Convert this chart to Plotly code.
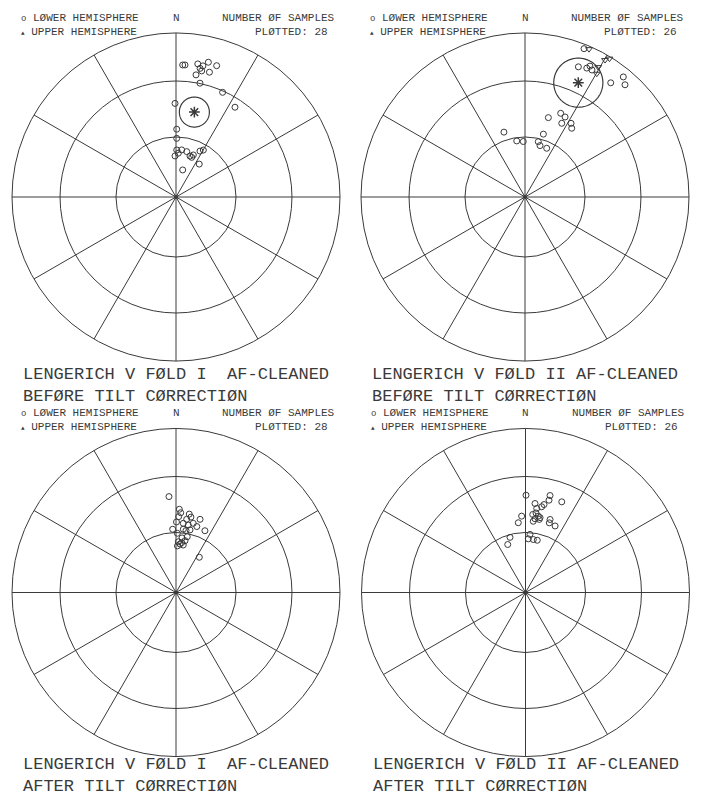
import numpy as np
import plotly.graph_objects as go

# Site directions: declination / inclination in degrees.
# Negative inclination = upper hemisphere.

# Fold I, before tilt correction
dec_f1_before = [2.9, 3.9, 9.3, 10.6, 11.5, 13.5, 15.0, 17.2, 9.3, 11.9, 24.0, 33.3, 359.4, 0.6,
                 0.7, 358.6, 0.9, 3.0, 6.9, 13.3, 18.9, 21.6, 22.4, 27.6, 30.2, 35.2, 13.9, 11.6]
inc_f1_before = [20.5, 20.4, 18.9, 21.3, 22.6, 16.6, 22.3, 17.3, 25.5, 29.8, 30.8, 34.8, 42.4, 56.0,
                 60.7, 69.6, 66.6, 68.2, 66.4, 66.8, 68.5, 68.8, 67.4, 64.2, 62.9, 70.0, 76.2, 19.5]

# Fold II, before tilt correction
dec_f2_before = [21.7, 22.3, 25.6, 26.4, 36.9, 39.3, 41.7, 342.0, 351.6, 358.2, 16.4, 23.1, 26.5,
                 32.0, 34.2, 16.3, 13.5, 16.3, 24.0, 27.8, 26.6,
                 23.4, 30.3, 31.4, 29.4, 30.2]
inc_f2_before = [3.0, 15.3, 13.9, 11.9, 14.0, 6.0, 9.2, 55.8, 61.7, 62.3, 48.2, 43.8, 48.4,
                 46.0, 48.0, 57.2, 61.6, 63.3, 63.4, 13.5, 44.6,
                 -2.0, -3.7, -1.3, -10.0, -14.1]

# Fold I, after tilt correction
dec_f1_after = [355.8, 2.3, 3.4, 9.6, 18.2, 2.0, 8.3, 6.0, 10.3, 14.0, 17.5, 25.1, 357.0, 6.6,
                9.2, 12.6, 1.3, 2.6, 6.5, 9.9, 4.7, 8.7, 11.4, 33.5, 0.4, 6.3, 11.2, 1.8]
inc_f1_after = [41.0, 47.9, 49.7, 49.9, 51.2, 51.8, 52.8, 55.1, 55.6, 54.2, 55.3, 55.8, 58.3, 58.1,
                58.6, 57.9, 60.4, 64.7, 65.0, 63.8, 65.8, 66.1, 61.6, 69.0, 54.6, 62.6, 51.3, 66.8]

# Fold II, after tilt correction
dec_f2_after = [0.3, 14.2, 21.8, 14.3, 11.9, 10.7, 6.1, 7.6, 357.1, 5.3, 7.5, 9.5, 7.3, 10.7,
                6.2, 11.0, 18.6, 18.9, 24.0, 354.1, 4.4, 3.0, 8.4, 12.7, 344.3, 339.7]
inc_f2_after = [40.4, 38.9, 40.2, 41.5, 44.4, 45.8, 44.6, 47.1, 51.5, 50.5, 49.5, 51.0, 52.6, 52.6,
                54.0, 51.6, 51.2, 53.0, 53.4, 54.8, 60.9, 63.2, 63.3, 63.3, 61.4, 64.5]

# Mean direction and alpha-95 (dec, inc, a95)
mean_f1_before = (12.2, 46.0, 8.0)
mean_f2_before = (25.0, 24.1, 14.5)

# Grid circles at inclinations 60 and 30 degrees
ring_inclinations = [60, 30]

title_line1 = ["LENGERICH V FØLD I  AF-CLEANED", "LENGERICH V FØLD II AF-CLEANED",
               "LENGERICH V FØLD I  AF-CLEANED", "LENGERICH V FØLD II AF-CLEANED"]
title_line2 = ["BEFØRE TILT CØRRECTIØN", "BEFØRE TILT CØRRECTIØN",
               "AFTER TILT CØRRECTIØN", "AFTER TILT CØRRECTIØN"]
sample_counts = [28, 26, 28, 26]

W, H = 701, 796
INK = "#3a3a3a"
FONT = "Liberation Mono"


def equal_area(inc):
    """Schmidt (equal-area) radius for an inclination, 0 at centre, 1 at rim."""
    inc = np.abs(np.asarray(inc, dtype=float))
    return np.sqrt(2.0) * np.sin(np.radians(90.0 - inc) / 2.0)


def confidence_circle(dec, inc, a95, n=181):
    """Circle around the mean in the projection plane, sized by the radial a95 extent."""
    r0 = float(equal_area(inc))
    rho = (float(equal_area(max(inc - a95, 0.0))) - float(equal_area(inc + a95))) / 2.0
    x0, y0 = r0 * np.sin(np.radians(dec)), r0 * np.cos(np.radians(dec))
    t = np.linspace(0, 2 * np.pi, n)
    x, y = x0 + rho * np.cos(t), y0 + rho * np.sin(t)
    return np.hypot(x, y), np.degrees(np.arctan2(x, y)) % 360


panels = [
    (dec_f1_before, inc_f1_before, mean_f1_before),
    (dec_f2_before, inc_f2_before, mean_f2_before),
    (dec_f1_after, inc_f1_after, None),
    (dec_f2_after, inc_f2_after, None),
]

# net centres and radius in pixels
centres = [(176, 197), (525, 197), (176, 592.5), (525.5, 592.5)]
RADIUS = 164

fig = go.Figure()

for k, (decs, incs, mean) in enumerate(panels):
    pid = "polar" if k == 0 else f"polar{k + 1}"
    decs = np.asarray(decs, dtype=float)
    incs = np.asarray(incs, dtype=float)
    lower = incs >= 0
    upper = ~lower
    fig.add_trace(go.Scatterpolar(
        r=equal_area(incs[lower]), theta=decs[lower], mode="markers", subplot=pid,
        marker=dict(symbol="circle-open", size=6, color=INK, line=dict(width=1)),
        showlegend=False, hoverinfo="skip"))
    if upper.any():
        fig.add_trace(go.Scatterpolar(
            r=equal_area(incs[upper]), theta=decs[upper], mode="markers", subplot=pid,
            marker=dict(symbol="triangle-down-open", size=6, color=INK, line=dict(width=1)),
            showlegend=False, hoverinfo="skip"))
    if mean is not None:
        cr, ct = confidence_circle(*mean)
        fig.add_trace(go.Scatterpolar(
            r=cr, theta=ct, mode="lines", subplot=pid,
            line=dict(color=INK, width=1.2), showlegend=False, hoverinfo="skip"))
        fig.add_trace(go.Scatterpolar(
            r=equal_area([mean[1]]), theta=[mean[0]], mode="markers", subplot=pid,
            marker=dict(symbol="asterisk-open", size=9, color=INK, line=dict(width=1.5)),
            showlegend=False, hoverinfo="skip"))
    # centre point of the net
    fig.add_trace(go.Scatterpolar(
        r=[0], theta=[0], mode="markers", subplot=pid,
        marker=dict(symbol="circle", size=4, color=INK),
        showlegend=False, hoverinfo="skip"))

    cx, cy = centres[k]
    fig.layout[pid] = dict(
        domain=dict(x=[(cx - RADIUS) / W, (cx + RADIUS) / W],
                    y=[1 - (cy + RADIUS) / H, 1 - (cy - RADIUS) / H]),
        bgcolor="white",
        angularaxis=dict(rotation=90, direction="clockwise", dtick=30,
                         showticklabels=False, ticks="", showline=True,
                         linecolor=INK, linewidth=1, gridcolor=INK, gridwidth=1),
        radialaxis=dict(range=[0, 1], tickvals=list(equal_area(ring_inclinations)),
                        showticklabels=False, ticks="", showline=False,
                        gridcolor=INK, gridwidth=1),
    )


def add_text(x, y, text, size, anchor="left", align="left"):
    fig.add_annotation(x=x / W, y=1 - y / H, xref="paper", yref="paper", text=text,
                       showarrow=False, xanchor=anchor, yanchor="middle", align=align,
                       font=dict(family=FONT, size=size, color=INK))


SMALL_O = "<span style='font-size:9px'>o</span>"
SMALL_TRI = "<span style='font-size:6px'>▲</span>"
NB = "\u00a0"

for k, (cx, cy) in enumerate(centres):
    top = cy - RADIUS
    hy = top - 8 if k < 2 else top - 9
    add_text(cx - 157,  hy,
             f"{SMALL_O}{NB}LØWER HEMISPHERE<br>{SMALL_TRI}{NB}UPPER HEMISPHERE", 11)
    add_text(cx, hy - 7, "N", 11, anchor="center")
    add_text(cx + 161, hy,
             f"NUMBER ØF SAMPLES<br>PLØTTED: {sample_counts[k]}{NB}", 11,
             anchor="right", align="right")
    ty = 385 if k < 2 else 775
    add_text(cx - 155, ty, f"{title_line1[k]}<br>{title_line2[k]}", 17)

fig.update_layout(width=W, height=H, margin=dict(l=0, r=0, t=0, b=0),
                  paper_bgcolor="white", plot_bgcolor="white", showlegend=False)

fig.write_html("out.html")
